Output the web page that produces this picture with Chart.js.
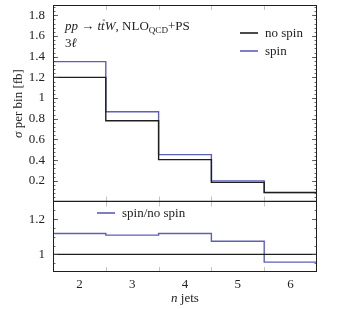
<!DOCTYPE html>
<html>
<head>
<meta charset="utf-8">
<script src="https://cdn.jsdelivr.net/npm/chart.js@4"></script>
<style>
  html, body { margin: 0; padding: 0; background: #fff; }
  #wrap { width: 353px; height: 309px; }
</style>
</head>
<body>
<div id="wrap"><canvas id="nJetsChart"></canvas></div>
<script>
const nJets = [2, 3, 4, 5, 6];
const noSpin = [1.2, 0.78, 0.405, 0.185, 0.088];
const spin = [1.352, 0.868, 0.453, 0.199, 0.085];
const ratioSpin = [1.118, 1.109, 1.118, 1.074, 0.956];
const ratioRef = [1, 1, 1, 1, 1];
const sigmaTicks = [0.2, 0.4, 0.6, 0.8, 1, 1.2, 1.4, 1.6, 1.8];
const ratioTicks = [1, 1.2];

const serif = "'Liberation Serif', 'DejaVu Serif', serif";
const black = "#1e1e1e";
const blue = "#5c60b6";
const fs = 13;

// histogram steps: a point on each left bin edge, plus the closing right edge
function steps(values) {
  const pts = nJets.map((n, i) => ({ x: n - 0.5, y: values[i] }));
  pts.push({ x: nJets[nJets.length - 1] + 0.5, y: values[values.length - 1] });
  return pts;
}

function line(ctx, x1, y1, x2, y2) {
  ctx.beginPath();
  ctx.moveTo(x1, y1);
  ctx.lineTo(x2, y2);
  ctx.stroke();
}

// draws runs of text (italic / subscript / overbar) one after another
function runs(ctx, x, y, parts, size) {
  for (const p of parts) {
    const s = p.sub ? size * 0.7 : size;
    ctx.font = (p.i ? "italic " : "") + s + "px " + serif;
    const dy = p.sub ? size * 0.22 : 0;
    ctx.fillText(p.t, x, y + dy);
    const w = ctx.measureText(p.t).width;
    if (p.bar) {
      ctx.lineWidth = 0.7;
      ctx.strokeStyle = ctx.fillStyle;
      line(ctx, x + 1.5, y - size * 0.76, x + w + 0.5, y - size * 0.76);
    }
    x += w;
  }
  return x;
}

function yTicks(ctx, scale, L, R, minor, majors) {
  ctx.strokeStyle = "#444";
  ctx.lineWidth = 0.8;
  for (let v = scale.min + minor; v < scale.max - 1e-9; v += minor) {
    const py = Math.round(scale.getPixelForValue(v)) + 0.5;
    line(ctx, L, py, L + 2.5, py);
    line(ctx, R, py, R - 2.5, py);
  }
  for (const v of majors) {
    const py = Math.round(scale.getPixelForValue(v)) + 0.5;
    line(ctx, L, py, L + 5, py);
    line(ctx, R, py, R - 5, py);
  }
}

const framePlugin = {
  id: "frame",
  afterDatasetsDraw(chart) {
    const ctx = chart.ctx;
    const { x, y, yr } = chart.scales;
    const L = x.left, R = x.right;
    const ds = chart.data.datasets;
    ctx.save();

    // grey ticks on the bin edges
    ctx.strokeStyle = "#c4c4c4";
    ctx.lineWidth = 1;
    for (const n of nJets.slice(1)) {
      const px = Math.round(x.getPixelForValue(n - 0.5)) + 0.5;
      line(ctx, px, y.top, px, y.top + 5);
      line(ctx, px, y.bottom - 5, px, y.bottom);
      line(ctx, px, yr.top, px, yr.top + 5);
      line(ctx, px, yr.bottom - 5, px, yr.bottom);
    }

    yTicks(ctx, y, L, R, 0.04, sigmaTicks);
    yTicks(ctx, yr, L, R, 0.05, ratioTicks);

    // panel frames
    ctx.strokeStyle = black;
    ctx.lineWidth = 1;
    ctx.strokeRect(L + 0.5, y.top + 0.5, R - L - 1, yr.bottom - y.top - 1);
    ctx.lineWidth = 1.3;
    line(ctx, L, y.bottom, R, y.bottom);

    ctx.fillStyle = "#222";
    ctx.textBaseline = "alphabetic";
    ctx.textAlign = "left";
    runs(ctx, L + 12, y.top + 25, [
      { t: "pp", i: true }, { t: " \u2192 " }, { t: "t", i: true },
      { t: "t", i: true, bar: true }, { t: "W", i: true }, { t: ", NLO" },
      { t: "QCD", sub: true }, { t: "+PS" }
    ], fs);
    runs(ctx, L + 12, y.top + 42, [{ t: "3" }, { t: "\u2113", i: true }], fs);

    // legends
    const legend = [[0, 240, 33], [1, 240, 51], [3, 97, 213]];
    for (const [i, lx, ly] of legend) {
      ctx.strokeStyle = ds[i].borderColor;
      ctx.lineWidth = 1.6;
      line(ctx, lx, ly, lx + 18, ly);
      ctx.font = fs + "px " + serif;
      ctx.fillText(ds[i].label, lx + 25, ly + 4);
    }

    // axis titles
    ctx.save();
    ctx.translate(22, (y.top + y.bottom) / 2);
    ctx.rotate(-Math.PI / 2);
    ctx.font = fs + "px " + serif;
    const tw = ctx.measureText("\u03c3 per bin [fb]").width;
    runs(ctx, -tw / 2, 0, [{ t: "\u03c3", i: true }, { t: " per bin [fb]" }], fs);
    ctx.restore();
    ctx.font = fs + "px " + serif;
    const xw = ctx.measureText("n jets").width;
    runs(ctx, (L + R) / 2 - xw / 2, 302, [{ t: "n", i: true }, { t: " jets" }], fs);

    ctx.restore();
  }
};

const tickFont = { family: serif, size: fs };
const common = { stepped: true, pointRadius: 0, borderWidth: 1.4, fill: false };
const fmt = (v) => String(Math.round(v * 100) / 100);
const noPad = (s) => { s.paddingTop = 0; s.paddingBottom = 0; s.paddingLeft = 0; s.paddingRight = 0; };

new Chart(document.getElementById("nJetsChart"), {
  type: "line",
  data: {
    datasets: [
      { ...common, label: "no spin", data: steps(noSpin), borderColor: black, yAxisID: "y" },
      { ...common, label: "spin", data: steps(spin), borderColor: blue, yAxisID: "y" },
      { ...common, label: "no spin/no spin", data: steps(ratioRef), borderColor: black, yAxisID: "yr" },
      { ...common, label: "spin/no spin", data: steps(ratioSpin), borderColor: blue, yAxisID: "yr" },
    ],
  },
  options: {
    responsive: true,
    maintainAspectRatio: false,
    animation: false,
    layout: { padding: { top: 5, right: 36, left: 0, bottom: 0 } },
    plugins: { legend: { display: false }, tooltip: { enabled: false } },
    scales: {
      x: {
        type: "linear",
        min: 1.5,
        max: 6.5,
        grid: { display: false, drawTicks: false },
        border: { display: false },
        afterBuildTicks: (s) => { s.ticks = nJets.map((v) => ({ value: v })); },
        afterFit: (s) => { s.height = 37; noPad(s); },
        ticks: { font: tickFont, color: "#222", padding: 5, autoSkip: false, maxRotation: 0, callback: fmt },
      },
      yr: {
        type: "linear",
        position: "left",
        stack: "panels",
        stackWeight: 70,
        min: 0.9,
        max: 1.3,
        grid: { display: false, drawTicks: false },
        border: { display: false },
        afterBuildTicks: (s) => { s.ticks = ratioTicks.map((v) => ({ value: v })); },
        afterFit: (s) => { s.width = 53; noPad(s); },
        ticks: { font: tickFont, color: "#222", padding: 8, autoSkip: false, callback: fmt },
      },
      y: {
        type: "linear",
        position: "left",
        stack: "panels",
        stackWeight: 195,
        min: 0,
        max: 1.9,
        grid: { display: false, drawTicks: false },
        border: { display: false },
        afterBuildTicks: (s) => { s.ticks = sigmaTicks.map((v) => ({ value: v })); },
        afterFit: (s) => { s.width = 53; noPad(s); },
        ticks: { font: tickFont, color: "#222", padding: 8, autoSkip: false, callback: fmt },
      },
    },
  },
  plugins: [framePlugin],
});
</script>
</body>
</html>
